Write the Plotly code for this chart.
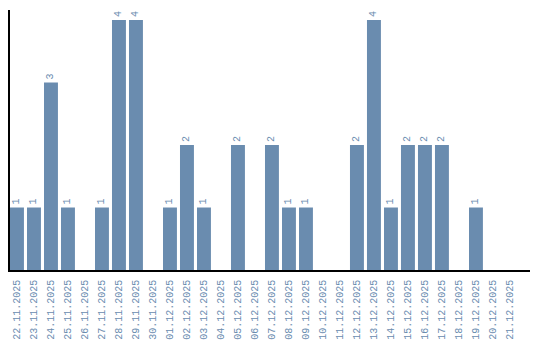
import plotly.graph_objects as go

dates = ["22.11.2025","23.11.2025","24.11.2025","25.11.2025","26.11.2025","27.11.2025",
         "28.11.2025","29.11.2025","30.11.2025","01.12.2025","02.12.2025","03.12.2025",
         "04.12.2025","05.12.2025","06.12.2025","07.12.2025","08.12.2025","09.12.2025",
         "10.12.2025","11.12.2025","12.12.2025","13.12.2025","14.12.2025","15.12.2025",
         "16.12.2025","17.12.2025","18.12.2025","19.12.2025","20.12.2025","21.12.2025"]
counts = [1,1,3,1,0,1,4,4,0,1,2,1,0,2,0,2,1,1,0,0,2,4,1,2,2,2,0,1,0,0]

labels = [str(v) if v else "" for v in counts]
col = "#6a8caf"
font = "Liberation Mono"

fig = go.Figure(go.Bar(
    x=dates, y=counts, text=labels, textposition="outside", textangle=-90,
    textfont=dict(family=font, size=10, color=col),
    marker=dict(color=col, line=dict(width=0)), cliponaxis=False,
))
fig.update_layout(
    width=540, height=340, margin=dict(l=10, r=10, t=10, b=70),
    paper_bgcolor="white", plot_bgcolor="white", bargap=0.18, showlegend=False,
    xaxis=dict(type="category", range=[-0.41, 30.18], tickangle=-90, automargin=False,
               tickfont=dict(family=font, size=10, color=col),
               showline=True, linecolor="black", linewidth=1.5, showgrid=False,
               ticks="", ticklen=0, zeroline=False, ticklabelstandoff=4),
    yaxis=dict(range=[0, 4.16], showline=True, linecolor="black", linewidth=1.5,
               automargin=False,
               showgrid=False, showticklabels=False, ticks="", zeroline=False),
)
fig.write_html("out.html")
